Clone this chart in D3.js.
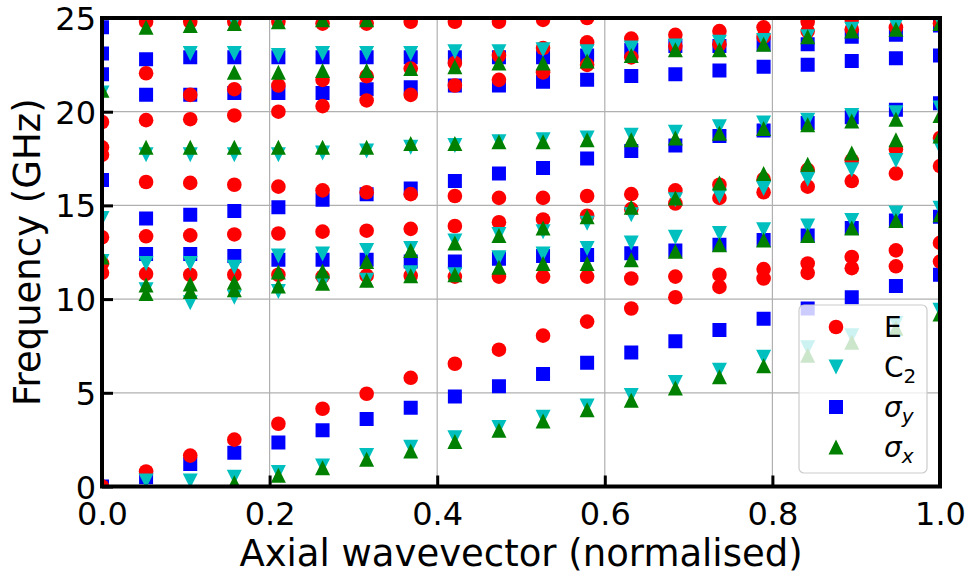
<!DOCTYPE html>
<html>
<head>
<meta charset="utf-8">
<script src="https://cdn.jsdelivr.net/npm/d3@7"></script>
<style>
  html, body { margin: 0; padding: 0; background: #fff; }
  svg { display: block; font-family: "DejaVu Sans", sans-serif; }
</style>
</head>
<body>
<svg id="chart" width="969" height="576"></svg>
<script>
// ---------- data ----------
const xValues = [0, 0.0526, 0.1053, 0.1579, 0.2105, 0.2632, 0.3158, 0.3684, 0.4211, 0.4737,
                 0.5263, 0.5789, 0.6316, 0.6842, 0.7368, 0.7895, 0.8421, 0.8947, 0.9474, 1.0];

const xTicks = [0.0, 0.2, 0.4, 0.6, 0.8, 1.0];
const yTicks = [0, 5, 10, 15, 20, 25];
const xGrid = [0.2, 0.4, 0.6, 0.8];
const yGrid = [5, 10, 15, 20];

const _ = null;
// E (red circles)
const E_1 = [0, 0.8, 1.65, 2.5, 3.35, 4.15, 4.95, 5.8, 6.55, 7.3, 8.05, 8.8, 9.5, 10.1, 10.65, 11.1, 11.4, 11.65, 11.75, 12.0];
const E_2 = [11.4, 11.35, 11.3, 11.3, 11.3, 11.2, 11.25, 11.25, 11.2, 11.2, 11.2, 11.2, 11.1, 11.2, 11.3, 11.6, 11.9, 12.25, 12.6, 13.0];
const E_3 = [11.9, _, _, _, _, _, _, _, _, _, _, _, _, _, _, _, _, _, _, _];
const E_4 = [13.3, 13.35, 13.4, 13.45, 13.5, 13.6, 13.65, 13.75, 13.9, 14.1, 14.25, 14.45, 14.8, 15.1, 15.4, 15.7, 16.0, 16.3, 16.7, 17.1];
const E_5 = [17.7, 16.25, 16.2, 16.1, 16.0, 15.8, 15.7, 15.6, 15.5, 15.4, 15.4, 15.5, 15.6, 15.8, 16.1, 16.4, 16.9, 17.4, 18.0, 18.6];
const E_6 = [18.1, _, _, _, _, _, _, _, _, _, _, _, _, _, _, _, _, _, _, _];
const E_7 = [19.45, 19.55, 19.6, 19.8, 20.0, 20.3, 20.6, 20.9, 21.4, 21.7, 22.1, 22.5, 22.9, 23.5, 23.6, 24.0, 24.3, 24.4, 24.5, 24.7];
const E_8 = [_, 22.05, 20.9, 21.2, 21.4, 21.7, 21.9, 22.3, 22.6, 23.0, 23.4, 23.7, 23.9, 24.1, 24.3, 24.5, 24.8, 24.9, _, _];
const E_9 = [_, 24.8, 24.8, 24.8, 24.8, 24.7, 24.7, 24.8, 24.8, 24.8, 24.9, 25.0, _, _, _, _, _, _, _, _];

// C2 (cyan down-triangles)
const C2_1 = [_, 0.3, 0.3, 0.5, 0.75, 1.1, 1.65, 2.1, 2.6, 3.15, 3.7, 4.3, 4.85, 5.55, 6.2, 6.9, 7.4, 8.05, 8.7, 9.4];
const C2_2 = [_, 10.5, 9.8, 10.1, 10.4, 10.85, 11.0, 11.4, 11.3, 12.2, 12.4, 12.7, 13.0, 13.3, 13.5, 13.7, 13.9, 14.2, 14.6, 14.85];
const C2_3 = [12.0, 11.9, 11.9, 11.7, 12.3, 12.4, 12.6, 12.7, 13.1, 13.45, 13.6, 14.05, 14.5, 15.3, 15.5, 15.9, 16.4, 16.9, 17.4, 18.1];
const C2_4 = [14.3, _, _, _, _, _, _, _, _, _, _, _, _, _, _, _, _, _, _, _];
const C2_5 = [_, 17.7, 17.7, 17.7, 17.7, 17.8, 17.9, 18.1, 18.2, 18.4, 18.5, 18.6, 18.75, 18.9, 19.2, 19.4, 19.55, 19.8, 19.95, 20.2];
const C2_6 = [21.0, _, _, _, _, _, _, _, _, _, _, _, _, _, _, _, _, _, _, _];
const C2_7 = [_, _, 23.1, 23.1, 23.0, 23.1, 23.1, 23.1, 23.2, 23.2, 23.3, 23.2, 23.4, 23.5, 23.7, 23.8, 24.0, 24.4, 24.6, 24.8];
const C2_8 = [_, _, _, 24.8, 24.85, _, _, _, _, _, _, _, _, _, _, _, _, _, _, _];

// sigma_y (blue squares)
const SY_1 = [0, 0.5, 1.2, 1.8, 2.35, 3.0, 3.6, 4.2, 4.8, 5.35, 6.0, 6.6, 7.15, 7.75, 8.35, 8.95, 9.5, 10.1, 10.7, 11.3];
const SY_2 = [_, 12.4, 12.4, 12.3, 12.1, 12.1, 12.1, 12.0, 12.0, 12.15, 12.3, 12.35, 12.45, 12.6, 12.9, 13.15, 13.4, 13.8, 14.2, 14.4];
const SY_3 = [16.35, 14.3, 14.5, 14.7, 14.9, 15.3, 15.6, 15.9, 16.3, 16.7, 17.0, 17.5, 17.9, 18.2, 18.7, 19.0, 19.4, 19.7, 20.1, 20.45];
const SY_4 = [22.0, 20.9, 20.9, 21.0, 21.0, 21.0, 21.2, 21.3, 21.4, 21.4, 21.6, 21.7, 21.9, 22.0, 22.2, 22.4, 22.5, 22.7, 22.85, 23.0];
const SY_5 = [23.1, 22.8, 22.9, 22.9, 22.9, 22.9, 22.9, 22.9, 22.9, 22.9, 22.9, 23.0, 23.3, 23.5, 23.5, 23.6, 23.6, 24.0, 24.1, 24.6];
const SY_6 = [24.5, _, _, _, _, _, _, _, _, _, _, _, _, _, _, _, _, _, _, _];

// sigma_x (green up-triangles)
const SX_1 = [_, _, _, 0.2, 0.6, 1.0, 1.45, 1.9, 2.4, 3.0, 3.5, 4.1, 4.6, 5.25, 5.85, 6.45, 7.0, 7.7, 8.45, 9.2];
const SX_2 = [_, 10.3, 10.4, 10.5, 10.7, 10.85, 11.0, 11.25, 11.3, 11.7, 11.9, 11.9, 12.1, 12.55, 12.9, 13.15, 13.4, 13.8, 14.2, 14.5];
const SX_3 = [12.25, 10.75, 10.8, 10.9, 11.45, 11.5, 12.0, 12.6, 13.0, 13.4, 13.8, 14.4, 14.9, 15.4, 16.2, 16.7, 17.2, 17.8, 18.5, 18.7];
const SX_4 = [_, 18.1, 18.1, 18.1, 18.1, 18.1, 18.1, 18.3, 18.3, 18.4, 18.4, 18.5, 18.5, 18.6, 18.85, 19.1, 19.3, 19.5, 19.6, 19.8];
const SX_5 = [21.15, _, _, 22.1, 22.1, 22.2, 22.2, 22.3, 22.4, 22.6, 22.6, 22.7, 23.0, 23.3, 23.3, 23.6, 24.0, 24.3, 24.4, 24.7];
const SX_6 = [_, 24.5, 24.6, 24.7, 24.8, 24.9, 24.9, _, _, _, _, _, _, _, _, _, _, _, _, _];

const seriesNames = ["E", "C2", "σy", "σx"];
const seriesColors = ["#ff0000", "#00bfbf", "#0000ff", "#008000"];
const seriesBands = [
  [E_1, E_2, E_3, E_4, E_5, E_6, E_7, E_8, E_9],
  [C2_1, C2_2, C2_3, C2_4, C2_5, C2_6, C2_7, C2_8],
  [SY_1, SY_2, SY_3, SY_4, SY_5, SY_6],
  [SX_1, SX_2, SX_3, SX_4, SX_5, SX_6]
];

// ---------- layout ----------
const W = 969, H = 576;
const L = 102, R = 940, T = 18, B = 486.5;
const svg = d3.select("#chart");

const x = d3.scaleLinear().domain([0, 1]).range([L, R]);
const y = d3.scaleLinear().domain([0, 25]).range([B, T]);

const MS = 15; // marker size in px

function markerPath(kind) {
  const h = MS / 2;
  if (kind === 0) return d3.symbol().type(d3.symbolCircle).size(Math.PI * (h - 0.2) * (h - 0.2))();
  if (kind === 2) return d3.symbol().type(d3.symbolSquare).size((MS - 1) * (MS - 1))();
  if (kind === 1) return `M${-h},${-h}L${h},${-h}L0,${h}Z`;   // down triangle
  return `M0,${-h}L${h},${h}L${-h},${h}Z`;                      // up triangle
}

// grid
const grid = svg.append("g");
grid.selectAll("line.gx").data(xGrid).join("line")
  .attr("x1", d => x(d)).attr("x2", d => x(d)).attr("y1", T).attr("y2", B)
  .attr("stroke", "#b0b0b0").attr("stroke-width", 1.2);
grid.selectAll("line.gy").data(yGrid).join("line")
  .attr("x1", L).attr("x2", R).attr("y1", d => y(d)).attr("y2", d => y(d))
  .attr("stroke", "#b0b0b0").attr("stroke-width", 1.2);

// clip
svg.append("clipPath").attr("id", "plotclip").append("rect")
  .attr("x", L).attr("y", T).attr("width", R - L).attr("height", B - T);

const pts = svg.append("g").attr("clip-path", "url(#plotclip)");
const drawOrder = [2, 0, 1, 3];
drawOrder.forEach(si => {
  const pathStr = markerPath(si);
  const data = [];
  seriesBands[si].forEach(band => band.forEach((v, i) => { if (v !== null) data.push([xValues[i], v]); }));
  pts.append("g").selectAll("path").data(data).join("path")
    .attr("d", pathStr)
    .attr("transform", d => `translate(${x(d[0])},${y(d[1])})`)
    .attr("fill", seriesColors[si]);
});

// axes
const xAxis = d3.axisBottom(x).tickValues(xTicks).tickFormat(d3.format(".1f")).tickSizeInner(-11).tickSizeOuter(0).tickPadding(16);
const yAxis = d3.axisLeft(y).tickValues(yTicks).tickFormat(d3.format("d")).tickSizeInner(-11).tickSizeOuter(0).tickPadding(8);

const gx = svg.append("g").attr("transform", `translate(0,${B})`).call(xAxis);
const gy = svg.append("g").attr("transform", `translate(${L},0)`).call(yAxis);
[gx, gy].forEach(g => {
  g.select(".domain").remove();
  g.selectAll(".tick line").attr("stroke", "#000").attr("stroke-width", 3);
  g.selectAll(".tick text").attr("fill", "#000").attr("font-size", 32)
    .attr("font-family", "DejaVu Sans, sans-serif");
});
gx.selectAll(".tick text").attr("dy", "0.71em");
gy.selectAll(".tick text").attr("dy", "0.36em").attr("x", -6);

// spines
svg.append("rect").attr("x", L).attr("y", T).attr("width", R - L).attr("height", B - T)
  .attr("fill", "none").attr("stroke", "#000").attr("stroke-width", 4);

// axis labels
svg.append("text").attr("x", (L + R) / 2).attr("y", 566).attr("text-anchor", "middle")
  .attr("font-size", 37).attr("fill", "#000").text("Axial wavevector (normalised)");
svg.append("text").attr("transform", `translate(40,${(T + B) / 2}) rotate(-90)`)
  .attr("text-anchor", "middle").attr("font-size", 37).attr("fill", "#000").text("Frequency (GHz)");

// legend
const lg = svg.append("g");
lg.append("rect").attr("x", 799).attr("y", 305).attr("width", 128).attr("height", 168)
  .attr("rx", 5).attr("fill", "#fff").attr("fill-opacity", 0.8)
  .attr("stroke", "#cccccc").attr("stroke-width", 1.2);
const legY = [327, 367, 407, 447];
seriesNames.forEach((name, i) => {
  lg.append("path").attr("d", markerPath(i))
    .attr("transform", `translate(836,${legY[i]})`).attr("fill", seriesColors[i]);
  const t = lg.append("text").attr("x", 884).attr("y", legY[i] + 10).attr("font-size", 28).attr("fill", "#000");
  if (name === "E") {
    t.text("E");
  } else if (name === "C2") {
    t.append("tspan").text("C");
    t.append("tspan").attr("font-size", 20).attr("dy", 6).text("2");
  } else {
    t.append("tspan").attr("font-style", "italic").text("σ");
    t.append("tspan").attr("font-size", 20).attr("dy", 6).attr("font-style", "italic").text(name.slice(1));
  }
});
</script>
</body>
</html>
